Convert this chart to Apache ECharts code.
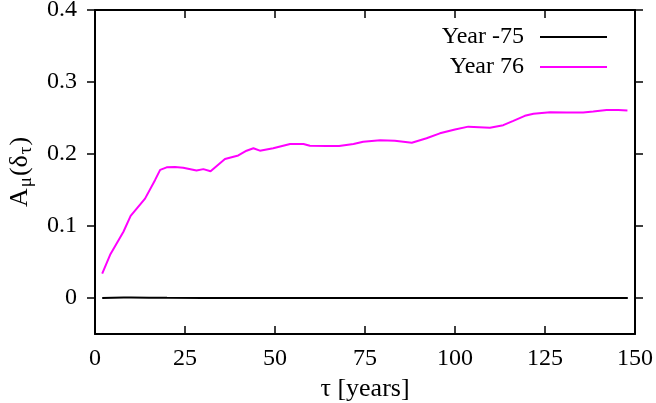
<!DOCTYPE html>
<html>
<head>
<meta charset="utf-8">
<script src="https://cdn.jsdelivr.net/npm/echarts@6/dist/echarts.min.js"></script>
<style>html,body{margin:0;padding:0;background:#fff}#c{width:656px;height:403px}</style>
</head>
<body>
<div id="c"></div>
<script>
var seriesNames = ['Year -75', 'Year 76'];
var tauNeg75 = [2, 5, 8, 10, 15, 20, 30, 40, 50, 60, 70, 80, 90, 100, 110, 120, 130, 140, 148];
var valNeg75 = [0, 0.0005, 0.0008, 0.0008, 0.0004, 0.0002, 0.0001, 0, 0.0001, 0, 0, 0, 0, 0, 0, 0, 0, 0, 0];
var tau76 = [2.0, 4.2, 7.9, 9.9, 13.9, 16.7, 18.1, 19.9, 22.2, 24.5, 28.2, 30.1, 32.1, 36.1, 39.8, 42.1, 44.0, 45.8, 49.5, 54.2, 57.9, 59.7, 64.4, 67.8, 71.8, 74.5, 79.2, 83.3, 88.0, 92.1, 95.8, 100.0, 103.7, 109.7, 113.4, 116.2, 119.4, 121.8, 126.4, 131.0, 135.6, 138.4, 142.1, 145.4, 147.9];
var val76 = [0.034, 0.060, 0.092, 0.114, 0.138, 0.164, 0.178, 0.1815, 0.182, 0.181, 0.177, 0.179, 0.176, 0.193, 0.198, 0.2046, 0.208, 0.2046, 0.208, 0.214, 0.214, 0.2115, 0.2112, 0.211, 0.214, 0.217, 0.219, 0.2185, 0.2157, 0.2218, 0.2287, 0.234, 0.238, 0.2366, 0.240, 0.246, 0.253, 0.256, 0.258, 0.2577, 0.2577, 0.259, 0.261, 0.261, 0.2605];
var xTicks = [0, 25, 50, 75, 100, 125, 150];
var yTicks = [0, 0.1, 0.2, 0.3, 0.4];

function pairs(xs, ys) { return xs.map(function (x, i) { return [x, ys[i]]; }); }

var FONT = 'Liberation Serif';
var FS = 24;
var NFS = 26;
var chart = echarts.init(document.getElementById('c'), null, { renderer: 'canvas' });
var axisLine = { show: true, onZero: false, lineStyle: { color: '#000', width: 2 } };
var tickStyle = { color: '#000', width: 1.5 };
chart.setOption({
  animation: false,
  textStyle: { fontFamily: FONT },
  grid: { left: 95, right: 21, top: 10, bottom: 69, containLabel: false, outerBoundsMode: 'none' },
  legend: {
    orient: 'vertical',
    right: 44,
    top: 20,
    align: 'right',
    itemGap: 6,
    itemWidth: 67,
    itemHeight: 2,
    icon: 'rect',
    textStyle: { fontFamily: FONT, fontSize: FS, color: '#000', padding: [0, 11, 0, 0] },
    data: seriesNames
  },
  xAxis: [{
    type: 'value', min: 0, max: 150, interval: 25,
    name: 'τ [years]', nameLocation: 'middle', nameGap: 39,
    nameTextStyle: { fontFamily: FONT, fontSize: NFS, color: '#000' },
    axisLine: axisLine,
    axisTick: { show: true, inside: true, length: 8, lineStyle: tickStyle },
    axisLabel: { fontFamily: FONT, fontSize: FS, color: '#000', margin: 13 },
    splitLine: { show: false }
  }, {
    type: 'value', min: 0, max: 150, interval: 25, position: 'top',
    axisLine: axisLine,
    axisTick: { show: true, inside: true, length: 8, lineStyle: tickStyle },
    axisLabel: { show: false }, splitLine: { show: false }
  }],
  yAxis: [{
    type: 'value', min: -0.05, max: 0.4,
    name: '{a|A}{s|μ}{a|(δ}{s|τ}{a|)}', nameLocation: 'middle', nameGap: 60,
    nameTextStyle: {
      fontFamily: FONT, color: '#000',
      rich: {
        a: { fontFamily: FONT, fontSize: NFS, color: '#000', lineHeight: 30 },
        s: { fontFamily: FONT, fontSize: 19, color: '#000', lineHeight: 30, padding: [12, 1, 0, 1] }
      }
    },
    axisLine: axisLine,
    axisTick: { show: true, inside: false, length: 8, customValues: yTicks, lineStyle: tickStyle },
    axisLabel: { fontFamily: FONT, fontSize: FS, color: '#000', margin: 18, customValues: yTicks,
      formatter: function (v) { return String(Math.round(v * 10) / 10); } },
    splitLine: { show: false }
  }, {
    type: 'value', min: -0.05, max: 0.4, position: 'right',
    axisLine: axisLine,
    axisTick: { show: true, inside: false, length: 8, customValues: yTicks, lineStyle: tickStyle },
    axisLabel: { show: false }, splitLine: { show: false }
  }],
  series: [{
    name: seriesNames[0], type: 'line', data: pairs(tauNeg75, valNeg75),
    showSymbol: false, symbol: 'none', color: '#000',
    lineStyle: { color: '#000', width: 2 }
  }, {
    name: seriesNames[1], type: 'line', data: pairs(tau76, val76),
    showSymbol: false, symbol: 'none', color: '#ff00ff',
    lineStyle: { color: '#ff00ff', width: 2 }
  }]
});
</script>
</body>
</html>
